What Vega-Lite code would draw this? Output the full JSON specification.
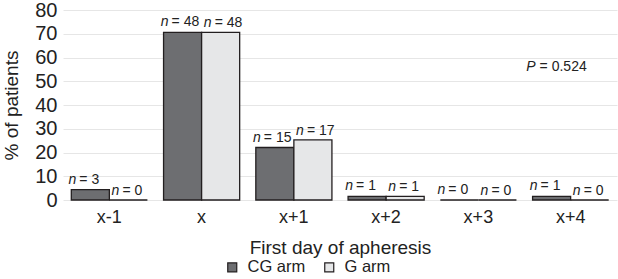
{
  "$schema": "https://vega.github.io/schema/vega-lite/v6.json",
  "width": 554,
  "height": 190,
  "autosize": "none",
  "padding": {"left": 63, "top": 10, "right": 1, "bottom": 79},
  "background": "white",
  "data": {"values": [
    {"day": "x-1", "arm": "CG arm", "pct": 4.4, "n": "= 3"},
    {"day": "x-1", "arm": "G arm", "pct": 0, "n": "= 0"},
    {"day": "x", "arm": "CG arm", "pct": 70.6, "n": "= 48"},
    {"day": "x", "arm": "G arm", "pct": 70.6, "n": "= 48"},
    {"day": "x+1", "arm": "CG arm", "pct": 22.1, "n": "= 15"},
    {"day": "x+1", "arm": "G arm", "pct": 25.3, "n": "= 17"},
    {"day": "x+2", "arm": "CG arm", "pct": 1.5, "n": "= 1"},
    {"day": "x+2", "arm": "G arm", "pct": 1.5, "n": "= 1"},
    {"day": "x+3", "arm": "CG arm", "pct": 0, "n": "= 0"},
    {"day": "x+3", "arm": "G arm", "pct": 0, "n": "= 0"},
    {"day": "x+4", "arm": "CG arm", "pct": 1.5, "n": "= 1"},
    {"day": "x+4", "arm": "G arm", "pct": 0, "n": "= 0"}
  ]},
  "config": {
    "font": "Liberation Sans",
    "view": {"stroke": null}
  },
  "encoding": {
    "x": {
      "field": "day", "type": "nominal", "sort": ["x-1", "x", "x+1", "x+2", "x+3", "x+4"],
      "scale": {"paddingInner": 0.175, "paddingOuter": 0.09},
      "axis": {
        "title": "First day of apheresis", "titleFontSize": 19, "titleFontWeight": "normal",
        "titleColor": "#222", "titlePadding": 12,
        "labelFontSize": 18, "labelColor": "#222", "labelPadding": 8, "labelAngle": 0,
        "domain": false, "ticks": false
      }
    },
    "xOffset": {"field": "arm", "type": "nominal", "sort": ["CG arm", "G arm"], "scale": {"paddingInner": 0, "paddingOuter": 0}},
    "y": {
      "field": "pct", "type": "quantitative",
      "scale": {"domain": [0, 80], "nice": false},
      "axis": {
        "title": "% of patients", "titleFontSize": 19, "titleFontWeight": "normal",
        "titleColor": "#222", "titlePadding": 13,
        "values": [0, 10, 20, 30, 40, 50, 60, 70, 80],
        "labelFontSize": 20, "labelColor": "#222", "labelPadding": 6,
        "domain": false, "ticks": false, "gridColor": "#e6e6e6"
      }
    }
  },
  "layer": [
    {
      "mark": {"type": "bar", "stroke": "#231f20", "strokeWidth": 1.3},
      "encoding": {
        "color": {
          "field": "arm", "type": "nominal",
          "scale": {"domain": ["CG arm", "G arm"], "range": ["#6d6e71", "#e6e7e8"]},
          "legend": {
            "title": null, "orient": "none", "direction": "horizontal",
            "legendX": 161, "legendY": 249,
            "symbolType": "square", "symbolSize": 81, "symbolStrokeColor": "#231f20",
            "symbolStrokeWidth": 1.2, "labelFontSize": 16.5, "labelColor": "#222",
            "columnPadding": 15, "labelOffset": 7
          }
        }
      }
    },
    {
      "transform": [{"filter": "datum.arm === 'CG arm'"}],
      "layer": [
        {
          "mark": {"type": "text", "fontStyle": "italic", "fontSize": 14, "align": "right", "baseline": "alphabetic", "dx": -14, "dy": -6, "color": "#222"},
          "encoding": {"text": {"value": "n"}}
        },
        {
          "mark": {"type": "text", "fontSize": 14, "align": "left", "baseline": "alphabetic", "dx": -11, "dy": -6, "color": "#222"},
          "encoding": {"text": {"field": "n"}}
        }
      ]
    },
    {
      "transform": [{"filter": "datum.arm === 'G arm'"}],
      "layer": [
        {
          "mark": {"type": "text", "fontStyle": "italic", "fontSize": 14, "align": "right", "baseline": "alphabetic", "dx": -9, "dy": -5, "color": "#222"},
          "encoding": {"text": {"value": "n"}}
        },
        {
          "mark": {"type": "text", "fontSize": 14, "align": "left", "baseline": "alphabetic", "dx": -6, "dy": -5, "color": "#222"},
          "encoding": {"text": {"field": "n"}}
        }
      ]
    },
    {
      "data": {"values": [{"day": "x+4", "arm": "CG arm", "pct": 56, "rest": "= 0.524"}]},
      "layer": [
        {
          "mark": {"type": "text", "fontStyle": "italic", "fontSize": 14, "align": "right", "baseline": "middle", "dx": -16, "color": "#222"},
          "encoding": {"text": {"value": "P"}}
        },
        {
          "mark": {"type": "text", "fontSize": 14, "align": "left", "baseline": "middle", "dx": -12, "color": "#222"},
          "encoding": {"text": {"field": "rest"}}
        }
      ]
    }
  ]
}
